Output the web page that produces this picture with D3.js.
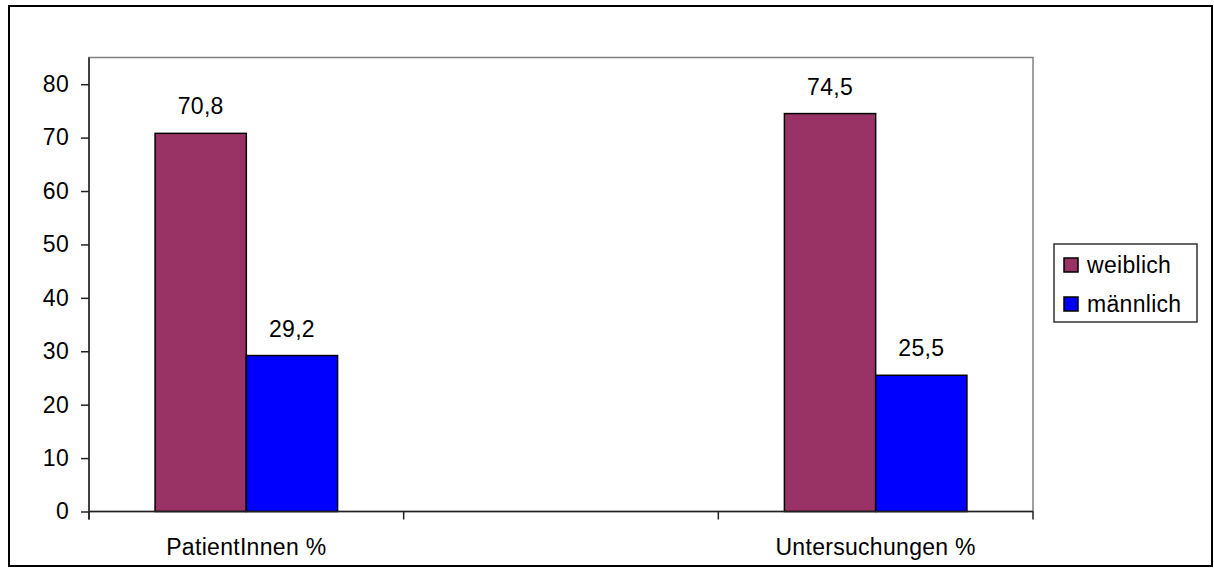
<!DOCTYPE html>
<html>
<head>
<meta charset="utf-8">
<script src="https://cdn.jsdelivr.net/npm/d3@7"></script>
<style>
  html, body { margin: 0; padding: 0; background: #fff; }
  svg { display: block; font-family: Arial, "Liberation Sans", sans-serif; }
  svg text { letter-spacing: 0.3px; }
</style>
</head>
<body>
<svg id="chart" width="1214" height="568"></svg>
<script>
// Categories along the x axis (the middle slot is an empty category)
const categories = ["PatientInnen %", "", "Untersuchungen %"];
const seriesNames = ["weiblich", "männlich"];
const weiblich = [70.8, null, 74.5];
const maennlich = [29.2, null, 25.5];
const yTicks = [0, 10, 20, 30, 40, 50, 60, 70, 80];
const yMax = 85;
const seriesColors = ["#993366", "#0000ff"];

const seriesValues = [weiblich, maennlich];
const FONT = 23;

const svg = d3.select("#chart");

// outer chart frame
svg.append("rect")
  .attr("x", 9).attr("y", 6).attr("width", 1203).attr("height", 560)
  .attr("fill", "none").attr("stroke", "#000").attr("stroke-width", 2);

const plot = { left: 89, right: 1033, top: 57.5, bottom: 511.5 };

const x = d3.scaleBand().domain(d3.range(categories.length))
  .range([plot.left, plot.right]).paddingInner(0).paddingOuter(0);
const y = d3.scaleLinear().domain([0, yMax]).range([plot.bottom, plot.top]);

const groupWidth = x.bandwidth() * 0.58;
const xs = d3.scaleBand().domain(seriesNames).range([-groupWidth / 2, groupWidth / 2]).padding(0);

// plot area frame
svg.append("rect")
  .attr("x", plot.left).attr("y", plot.top)
  .attr("width", plot.right - plot.left).attr("height", plot.bottom - plot.top)
  .attr("fill", "none").attr("stroke", "#808080").attr("stroke-width", 1.5);

// bars
const rows = [];
categories.forEach((c, i) => {
  seriesNames.forEach((s, j) => {
    const v = seriesValues[j][i];
    if (v != null) rows.push({ i, s, j, v });
  });
});

const cx = i => x(i) + x.bandwidth() / 2;

svg.append("g").selectAll("rect").data(rows).join("rect")
  .attr("x", d => cx(d.i) + xs(d.s))
  .attr("y", d => y(d.v))
  .attr("width", xs.bandwidth())
  .attr("height", d => y(0) - y(d.v))
  .attr("fill", d => seriesColors[d.j])
  .attr("stroke", "#000").attr("stroke-width", 1.5);

// value labels
svg.append("g").selectAll("text").data(rows).join("text")
  .attr("x", d => cx(d.i) + xs(d.s) + xs.bandwidth() / 2)
  .attr("y", d => y(d.v) - 19)
  .attr("text-anchor", "middle")
  .attr("font-size", FONT)
  .attr("fill", "#000")
  .text(d => d.v.toFixed(1).replace(".", ","));

// y axis
const yAxis = svg.append("g")
  .attr("transform", `translate(${plot.left},0)`)
  .call(d3.axisLeft(y).tickValues(yTicks).tickSize(8).tickPadding(12).tickFormat(d3.format("d")));
yAxis.select(".domain").remove();
yAxis.append("line")
  .attr("x1", 0).attr("x2", 0).attr("y1", plot.top).attr("y2", plot.bottom + 8)
  .attr("stroke", "#222").attr("stroke-width", 1.5);
yAxis.selectAll(".tick line").attr("stroke", "#222").attr("stroke-width", 1.5);
yAxis.selectAll(".tick text")
  .attr("font-size", FONT).attr("fill", "#000")
  .attr("font-family", "Arial, 'Liberation Sans', sans-serif");

// x axis
const xAxis = svg.append("g").attr("transform", `translate(0,${plot.bottom})`);
xAxis.append("line")
  .attr("x1", plot.left).attr("x2", plot.right).attr("y1", 0).attr("y2", 0)
  .attr("stroke", "#222").attr("stroke-width", 1.5);
const boundaries = d3.range(categories.length + 1).map(k =>
  k < categories.length ? x(k) : plot.right);
xAxis.selectAll("line.tick").data(boundaries).join("line")
  .attr("class", "tick")
  .attr("x1", d => d).attr("x2", d => d).attr("y1", 0).attr("y2", 8)
  .attr("stroke", "#222").attr("stroke-width", 1.5);
xAxis.selectAll("text").data(categories.map((c, i) => ({ c, i })).filter(d => d.c))
  .join("text")
  .attr("x", d => cx(d.i))
  .attr("y", 43)
  .attr("text-anchor", "middle")
  .attr("font-size", FONT)
  .attr("fill", "#000")
  .text(d => d.c);

// legend
const legend = svg.append("g").attr("transform", "translate(1054,244)");
legend.append("rect")
  .attr("width", 143).attr("height", 78)
  .attr("fill", "#fff").attr("stroke", "#333").attr("stroke-width", 1.5);
const items = legend.selectAll("g.item").data(seriesNames).join("g")
  .attr("class", "item")
  .attr("transform", (d, j) => `translate(10,${14 + j * 39})`);
items.append("rect")
  .attr("width", 14).attr("height", 14)
  .attr("fill", (d, j) => seriesColors[j])
  .attr("stroke", "#000").attr("stroke-width", 1.5);
items.append("text")
  .attr("x", 23).attr("y", 7).attr("dy", "0.35em")
  .attr("font-size", FONT).attr("fill", "#000")
  .text(d => d);
</script>
</body>
</html>
